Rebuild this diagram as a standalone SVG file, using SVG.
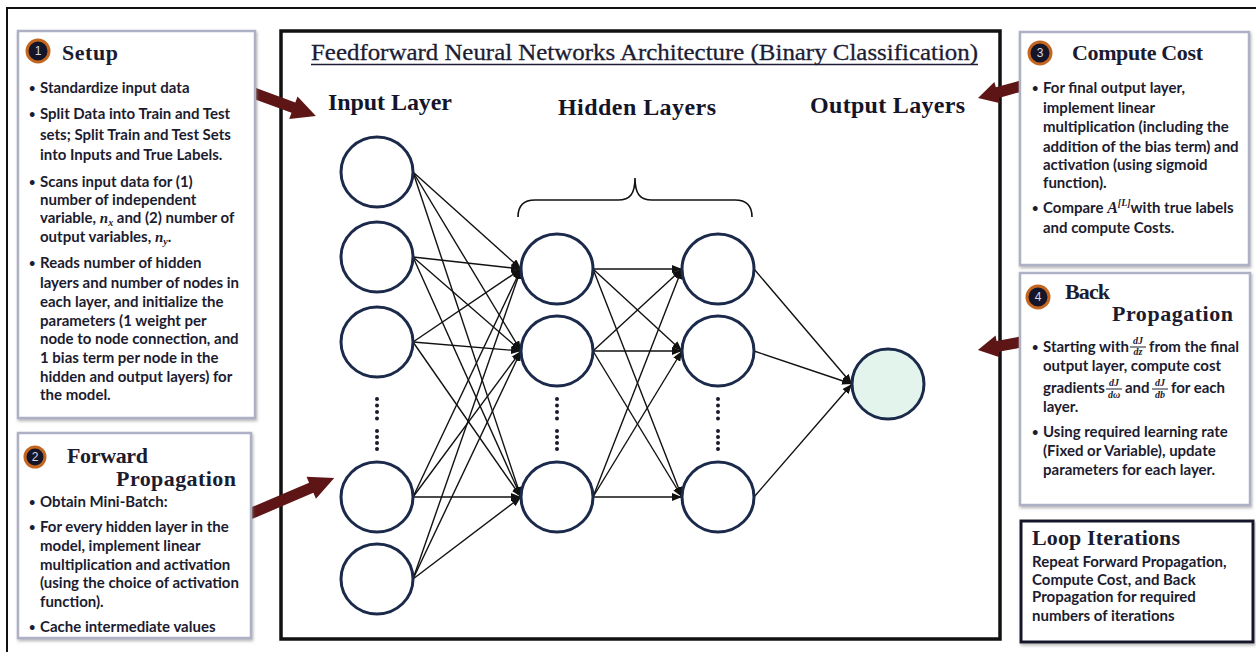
<svg xmlns="http://www.w3.org/2000/svg" width="1256" height="652" viewBox="0 0 1256 652">
<defs>
<style>
.body{font-family:Lato,"Open Sans","Liberation Sans",sans-serif;font-weight:700;font-size:15px;fill:#1c1c30}
.bul{font-size:11px}
.head{font-family:"Liberation Serif",serif;font-weight:700;font-size:22px;fill:#1c1c30}
.lay{font-family:"Liberation Serif",serif;font-weight:700;font-size:24px;fill:#15152a}
.m{font-family:"Liberation Serif",serif;font-style:italic;font-weight:700}
.fr{font-family:"Liberation Serif",serif;font-style:italic;font-weight:700;font-size:10px;fill:#1c1c30}
.box{fill:#fff;stroke:#aeb0c6;stroke-width:2.5}
.loop{fill:#fff;stroke:#17172b;stroke-width:3}
.node{fill:#fff;stroke:#1b2a4a;stroke-width:3}
.badge{fill:#15152a;stroke:#c4661f;stroke-width:3}
.bnum{font-family:"Liberation Sans",sans-serif;font-size:12px;fill:#d8d8e0;text-anchor:middle}
.conn line{stroke:#111;stroke-width:1.4;marker-end:url(#ah)}
.dot{fill:#1b1b2b}
.big{fill:#5e1515}
</style>
<marker id="ah" markerUnits="userSpaceOnUse" markerWidth="10" markerHeight="8" refX="10" refY="4" orient="auto"><path d="M0,0 L10,4 L0,8 z" fill="#111"/></marker>
<filter id="sh" x="-5%" y="-5%" width="110%" height="110%"><feDropShadow dx="1" dy="2" stdDeviation="1.5" flood-color="#888" flood-opacity="0.6"/></filter>
</defs>
<rect width="1256" height="652" fill="#fff"/>
<rect x="7" y="8" width="1262" height="662" fill="none" stroke="#111" stroke-width="2"/>

<g id="main-frame">
<rect x="281" y="31" width="719" height="608" fill="#fff" stroke="#111" stroke-width="3.5"/>
<text x="311" y="60" font-family="Liberation Serif, serif" font-size="23.5" fill="#1c1c34" stroke="#1c1c34" stroke-width="0.3" textLength="667" lengthAdjust="spacingAndGlyphs">Feedforward Neural Networks Architecture (Binary Classification)</text>
<line x1="311" y1="64.5" x2="978" y2="64.5" stroke="#1c1c34" stroke-width="1.6"/>
<text class="lay" x="328" y="110" textLength="124">Input Layer</text>
<text class="lay" x="558" y="115" textLength="158">Hidden Layers</text>
<text class="lay" x="810" y="113" textLength="155">Output Layers</text>
<path d="M518,217 C518,206 523,200 535,200 L618,200 C630,200 635,194 635,178 C635,194 640,200 652,200 L735,200 C747,200 752,206 752,217" fill="none" stroke="#111" stroke-width="1.6"/>
</g>

<g id="connectors" class="conn">
<line x1="413" y1="172" x2="521" y2="269"/><line x1="413" y1="172" x2="521" y2="351"/><line x1="413" y1="172" x2="521" y2="497"/>
<line x1="413" y1="257" x2="521" y2="269"/><line x1="413" y1="257" x2="521" y2="351"/><line x1="413" y1="257" x2="521" y2="497"/>
<line x1="413" y1="342" x2="521" y2="269"/><line x1="413" y1="342" x2="521" y2="351"/><line x1="413" y1="342" x2="521" y2="497"/>
<line x1="413" y1="497" x2="521" y2="269"/><line x1="413" y1="497" x2="521" y2="351"/><line x1="413" y1="497" x2="521" y2="497"/>
<line x1="413" y1="579" x2="521" y2="269"/><line x1="413" y1="579" x2="521" y2="351"/><line x1="413" y1="579" x2="521" y2="497"/>
<line x1="593" y1="269" x2="682" y2="269"/><line x1="593" y1="269" x2="682" y2="351"/><line x1="593" y1="269" x2="682" y2="497"/>
<line x1="593" y1="351" x2="682" y2="269"/><line x1="593" y1="351" x2="682" y2="351"/><line x1="593" y1="351" x2="682" y2="497"/>
<line x1="593" y1="497" x2="682" y2="269"/><line x1="593" y1="497" x2="682" y2="351"/><line x1="593" y1="497" x2="682" y2="497"/>
<line x1="754" y1="269" x2="852" y2="384"/><line x1="754" y1="351" x2="852" y2="384"/><line x1="754" y1="497" x2="852" y2="384"/>
</g>

<g id="input-layer">
<ellipse class="node" cx="377" cy="172" rx="36" ry="35"/>
<ellipse class="node" cx="377" cy="257" rx="36" ry="35"/>
<ellipse class="node" cx="377" cy="342" rx="36" ry="35"/>
<ellipse class="node" cx="377" cy="497" rx="36" ry="35"/>
<ellipse class="node" cx="377" cy="579" rx="36" ry="35"/>
<g class="dot"><circle cx="377" cy="399" r="2"/><circle cx="377" cy="405.5" r="2"/><circle cx="377" cy="412" r="2"/><circle cx="377" cy="418.5" r="2"/><circle cx="377" cy="431" r="2"/><circle cx="377" cy="437" r="2"/><circle cx="377" cy="443" r="2"/><circle cx="377" cy="449" r="2"/></g>
</g>
<g id="hidden-layer-1">
<ellipse class="node" cx="557" cy="269" rx="36" ry="35"/>
<ellipse class="node" cx="557" cy="351" rx="36" ry="35"/>
<ellipse class="node" cx="557" cy="497" rx="36" ry="35"/>
<g class="dot"><circle cx="557" cy="399" r="2"/><circle cx="557" cy="405.5" r="2"/><circle cx="557" cy="412" r="2"/><circle cx="557" cy="418.5" r="2"/><circle cx="557" cy="431" r="2"/><circle cx="557" cy="437" r="2"/><circle cx="557" cy="443" r="2"/><circle cx="557" cy="449" r="2"/></g>
</g>
<g id="hidden-layer-2">
<ellipse class="node" cx="718" cy="269" rx="36" ry="35"/>
<ellipse class="node" cx="718" cy="351" rx="36" ry="35"/>
<ellipse class="node" cx="718" cy="497" rx="36" ry="35"/>
<g class="dot"><circle cx="718" cy="399" r="2"/><circle cx="718" cy="405.5" r="2"/><circle cx="718" cy="412" r="2"/><circle cx="718" cy="418.5" r="2"/><circle cx="718" cy="431" r="2"/><circle cx="718" cy="437" r="2"/><circle cx="718" cy="443" r="2"/><circle cx="718" cy="449" r="2"/></g>
</g>
<g id="output-layer">
<ellipse class="node" cx="888" cy="384" rx="36" ry="35" style="fill:#e2f4ec"/>
</g>

<g id="big-arrows" class="big">
<path transform="translate(224,82) rotate(20.3)" d="M0,-5.5 L74,-5.5 L74,-12 L98,0 L74,12 L74,5.5 L0,5.5 z"/>
<path transform="translate(245,516) rotate(-23.1)" d="M0,-5.5 L72,-5.5 L72,-12 L97,0 L72,12 L72,5.5 L0,5.5 z"/>
<path transform="translate(1032,83) rotate(164.5)" d="M0,-5.5 L36,-5.5 L36,-11 L56,0 L36,11 L36,5.5 L0,5.5 z"/>
<path transform="translate(1032,340) rotate(169.5)" d="M0,-5.5 L35,-5.5 L35,-11 L55,0 L35,11 L35,5.5 L0,5.5 z"/>
</g>

<g id="setup">
<rect class="box" x="18" y="31" width="237" height="387" filter="url(#sh)"/>
<circle class="badge" cx="38" cy="51" r="11"/><text class="bnum" x="38" y="55">1</text>
<text class="head" x="62" y="60" textLength="56">Setup</text>
<g class="body">
<text class="bul" x="29" y="92">•</text><text x="40" y="93">Standardize input data</text>
<text class="bul" x="29" y="118">•</text><text x="40" y="119">Split Data into Train and Test</text>
<text x="40" y="140">sets; Split Train and Test Sets</text>
<text x="40" y="160">into Inputs and True Labels.</text>
<text class="bul" x="29" y="186">•</text><text x="40" y="187">Scans input data for (1)</text>
<text x="40" y="205">number of independent</text>
<text x="40" y="223">variable, <tspan class="m">n</tspan><tspan class="m" font-size="10" dy="3">x</tspan><tspan dy="-3"> and (2) number of</tspan></text>
<text x="40" y="242">output variables, <tspan class="m">n</tspan><tspan class="m" font-size="10" dy="3">y</tspan><tspan dy="-3">.</tspan></text>
<text class="bul" x="29" y="267">•</text><text x="40" y="268">Reads number of hidden</text>
<text x="40" y="288">layers and number of nodes in</text>
<text x="40" y="307">each layer, and initialize the</text>
<text x="40" y="326">parameters (1 weight per</text>
<text x="40" y="344">node to node connection, and</text>
<text x="40" y="363">1 bias term per node in the</text>
<text x="40" y="382">hidden and output layers) for</text>
<text x="40" y="400">the model.</text>
</g>
</g>

<g id="forward-propagation">
<rect class="box" x="18" y="433" width="233" height="205" filter="url(#sh)"/>
<circle class="badge" cx="35" cy="457" r="10"/><text class="bnum" x="35" y="461">2</text>
<text class="head" x="67" y="463" textLength="81">Forward</text>
<text class="head" x="116" y="486" textLength="120">Propagation</text>
<g class="body">
<text class="bul" x="29" y="506">•</text><text x="40" y="507">Obtain Mini-Batch:</text>
<text class="bul" x="29" y="531">•</text><text x="40" y="532">For every hidden layer in the</text>
<text x="40" y="551">model, implement linear</text>
<text x="40" y="570">multiplication and activation</text>
<text x="40" y="588">(using the choice of activation</text>
<text x="40" y="607">function).</text>
<text class="bul" x="29" y="631">•</text><text x="40" y="632">Cache intermediate values</text>
</g>
</g>

<g id="compute-cost">
<rect class="box" x="1020" y="32" width="229" height="233" filter="url(#sh)"/>
<circle class="badge" cx="1040" cy="53" r="11"/><text class="bnum" x="1040" y="57">3</text>
<text class="head" x="1072" y="60" textLength="131">Compute Cost</text>
<g class="body">
<text class="bul" x="1032" y="92">•</text><text x="1043" y="93">For final output layer,</text>
<text x="1043" y="113">implement linear</text>
<text x="1043" y="132">multiplication (including the</text>
<text x="1043" y="152">addition of the bias term) and</text>
<text x="1043" y="170">activation (using sigmoid</text>
<text x="1043" y="188">function).</text>
<text class="bul" x="1032" y="212">•</text><text x="1043" y="213">Compare <tspan class="m" font-size="16">A</tspan><tspan class="m" font-size="10" dy="-7">[L]</tspan><tspan dy="7">with true labels</tspan></text>
<text x="1043" y="233">and compute Costs.</text>
</g>
</g>

<g id="back-propagation">
<rect class="box" x="1020" y="273" width="230" height="232" filter="url(#sh)"/>
<circle class="badge" cx="1038" cy="297" r="11"/><text class="bnum" x="1038" y="301">4</text>
<text class="head" x="1065" y="299" textLength="45">Back</text>
<text class="head" x="1112" y="321" textLength="121">Propagation</text>
<g class="body">
<text class="bul" x="1032" y="351">•</text><text x="1043" y="352">Starting with</text>
<text x="1149" y="352">from the final</text>
<text x="1043" y="371">output layer, compute cost</text>
<text x="1043" y="393">gradients</text>
<text x="1125" y="393">and</text>
<text x="1171" y="393">for each</text>
<text x="1043" y="412">layer.</text>
<text class="bul" x="1032" y="436">•</text><text x="1043" y="437">Using required learning rate</text>
<text x="1043" y="456">(Fixed or Variable), update</text>
<text x="1043" y="475">parameters for each layer.</text>
</g>
<g class="fr" text-anchor="middle">
<text x="1138" y="344">dJ</text><text x="1138" y="355">dz</text>
<text x="1114" y="386">dJ</text><text x="1114" y="398">dω</text>
<text x="1160" y="386">dJ</text><text x="1160" y="398">db</text>
</g>
<g stroke="#1c1c30" stroke-width="1">
<line x1="1130" y1="347" x2="1146" y2="347"/>
<line x1="1106" y1="389" x2="1122" y2="389"/>
<line x1="1152" y1="389" x2="1168" y2="389"/>
</g>
</g>

<g id="loop-iterations">
<rect class="loop" x="1021" y="521" width="232" height="121" filter="url(#sh)"/>
<text class="head" x="1032" y="545" textLength="148">Loop Iterations</text>
<g class="body">
<text x="1032" y="567">Repeat Forward Propagation,</text>
<text x="1032" y="585">Compute Cost, and Back</text>
<text x="1032" y="602">Propagation for required</text>
<text x="1032" y="621">numbers of iterations</text>
</g>
</g>
</svg>
